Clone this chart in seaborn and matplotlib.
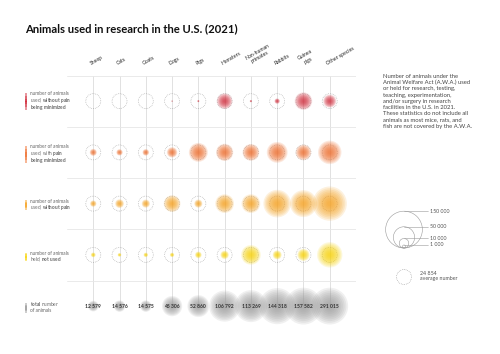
import numpy as np
import pandas as pd
import matplotlib.pyplot as plt
import seaborn as sns
from matplotlib.patches import Rectangle, Circle
from matplotlib.lines import Line2D

# ---- data ----
species = ["Sheep", "Cats", "Goats", "Dogs", "Pigs", "Hamsters",
           "Non-human\nprimates", "Rabbits", "Guinea\npigs", "Other species"]
row_keys = ["pain_not_minimized", "pain_minimized", "no_pain", "not_used", "total"]

pain_not_minimized = [0, 0, 0, 200, 500, 27000, 600, 3200, 34000, 18700]
pain_minimized = [5500, 4500, 4800, 12000, 40000, 33000, 31000, 48000, 27000, 61000]
no_pain = [4500, 8500, 7500, 31000, 7500, 39000, 39000, 84000, 80000, 130000]
held_not_used = [2500, 1500, 2200, 2100, 4900, 7800, 42700, 9100, 16600, 71000]
totals = [12579, 14576, 14575, 45306, 52860, 106792, 113269, 144318, 157582, 291015]
total_labels = ["12 579", "14 576", "14 575", "45 306", "52 860",
                "106 792", "113 269", "144 318", "157 582", "291 015"]
average_value = 24854
legend_values = [150000, 50000, 10000, 1000]
legend_labels = ["150 000", "50 000", "10 000", "1 000"]

row_colors = {"pain_not_minimized": "#d2303f", "pain_minimized": "#ef6f2e",
              "no_pain": "#f6a323", "not_used": "#f8d40a", "total": "#9c9c9c"}

series = [pain_not_minimized, pain_minimized, no_pain, held_not_used, totals]
records = []
for ri, (key, vals) in enumerate(zip(row_keys, series)):
    for ci, v in enumerate(vals):
        records.append({"col": ci, "row": ri, "kind": key, "value": v})
df = pd.DataFrame(records)

# circle scale: 150 000 animals -> radius 18.4 px (dpi 100)
VMAX = 150000
R_MAX_PX = 18.4
S_MAX = (2 * R_MAX_PX * 0.72) ** 2


def radius_px(v):
    return R_MAX_PX * np.sqrt(v / VMAX)


sns.set_style("white")
plt.rcParams['font.family'] = ['Lato', 'DejaVu Sans']
plt.rcParams['mathtext.fontset'] = 'custom'
plt.rcParams['mathtext.rm'] = 'Lato'
plt.rcParams['mathtext.bf'] = 'Lato:bold'

fig = plt.figure(figsize=(5, 3.54), dpi=100)
W, H = 500, 354


def fx(x):
    return x / W


def fy(y):
    return 1 - y / H


ax = fig.add_axes([fx(67), fy(342), 289 / W, 266.5 / H])

# grid
for ci in range(len(species)):
    ax.plot([ci, ci], [-0.5, 4], color="#dcdcdc", lw=0.6, zorder=0)
for yy in [-0.5, 0.5, 1.5, 2.5, 3.5]:
    ax.plot([-1, 10], [yy, yy], color="#e6e6e6", lw=0.6, zorder=0)

# dotted "average" circles
avg_df = df[df["row"] < 4]
ax.scatter(avg_df["col"], avg_df["row"], s=S_MAX * average_value / VMAX,
           facecolors="none", edgecolors="#a8a8a8", linewidths=0.5,
           linestyles=(0, (1, 1.5)), zorder=1)

# soft circles: many thin layers for a radial fade
fracs = np.linspace(1.0, 0.15, 10)
for frac in fracs:
    sns.scatterplot(data=df, x="col", y="row", size="value",
                    sizes=(0, S_MAX * frac ** 2), size_norm=(0, VMAX),
                    hue="kind", palette=row_colors, alpha=0.15,
                    linewidth=0, legend=False, ax=ax, zorder=2)
ax.set_xlim(-1, 10)
ax.set_ylim(4.7, -0.5)
ax.axis("off")

for ci, lab in enumerate(total_labels):
    ax.text(ci, 4, lab, ha="center", va="center", fontsize=3.6,
            fontweight="bold", color="#333333", zorder=5)

# column labels
for ci, name in enumerate(species):
    ax.text(ci - 0.05, -0.68, name, ha="left", va="bottom", rotation=30,
            rotation_mode="anchor", fontsize=3.7, multialignment="center",
            color="#222222", clip_on=False)

# title
fig.text(fx(25), fy(28.5), "Animals used in research in the U.S. (2021)",
         fontsize=8.1, fontweight="bold", ha="left", va="center", color="#111111")

# row labels, one text per line
row_lines = [
    ["number of animals", "used, $\\mathbf{without\\ pain}$", "$\\mathbf{being\\ minimized}$"],
    ["number of animals", "used, with $\\mathbf{pain}$", "$\\mathbf{being\\ minimized}$"],
    ["number of animals", "used, $\\mathbf{without\\ pain}$"],
    ["number of animals", "held, $\\mathbf{not\\ used}$"],
    ["$\\mathbf{total}$ number", "of animals"],
]
line_y = [[94, 101, 108], [147, 154, 161], [201.5, 208], [253.5, 260], [304.5, 311]]
swatches = [(93, 110), (146, 163), (200, 210), (253, 261), (303, 313)]
for lines, ys, (y0, y1), key in zip(row_lines, line_y, swatches, row_keys):
    for txt, yc in zip(lines, ys):
        fig.text(fx(30), fy(yc + 1.3), txt, ha="left", va="baseline", fontsize=3.4,
                 color="#666666")
    nseg = 6
    seg_h = (y1 - y0) / nseg
    for k in range(nseg):
        a = 0.35 + 0.55 * np.sin(np.pi * (k + 0.5) / nseg)
        fig.add_artist(Rectangle((fx(25), fy(y0 + (k + 1) * seg_h)), 2.4 / W, seg_h / H,
                                 transform=fig.transFigure, facecolor=row_colors[key],
                                 alpha=a, linewidth=0))

# side note
note = ("Number of animals under the\nAnimal Welfare Act (A.W.A.) used\n"
        "or held for research, testing,\nteaching, experimentation,\n"
        "and/or surgery in research\nfacilities in the U.S. in 2021.\n"
        "These statistics do not include all\nanimals as most mice, rats, and\n"
        "fish are not covered by the A.W.A.")
fig.text(fx(383), fy(73.5), note, ha="left", va="top", fontsize=4.2,
         color="#444444", linespacing=1.3)

# size legend
lax = fig.add_axes([fx(370), fy(300), 130 / W, 105 / H])
lax.set_xlim(370, 500)
lax.set_ylim(300, 195)
lax.axis("off")
cx, base = 404, 248
for v, lab in zip(legend_values, legend_labels):
    r = radius_px(v)
    lax.add_patch(Circle((cx, base - r), r, fill=False, edgecolor="#9a9a9a", lw=0.4))
    top = base - 2 * r
    lax.add_line(Line2D([cx, 428], [top, top], color="#9a9a9a", lw=0.4))
    lax.text(430, top, lab, ha="left", va="center", fontsize=3.8, color="#555555")
ra = radius_px(average_value)
lax.add_patch(Circle((cx, 277), ra, fill=False, edgecolor="#9a9a9a", lw=0.5,
                     linestyle=(0, (1, 1.5))))
lax.text(420, 276, "24 854\naverage number", ha="left", va="center",
         fontsize=3.8, color="#555555", linespacing=1.2)

fig.savefig("out.png", dpi=100)
